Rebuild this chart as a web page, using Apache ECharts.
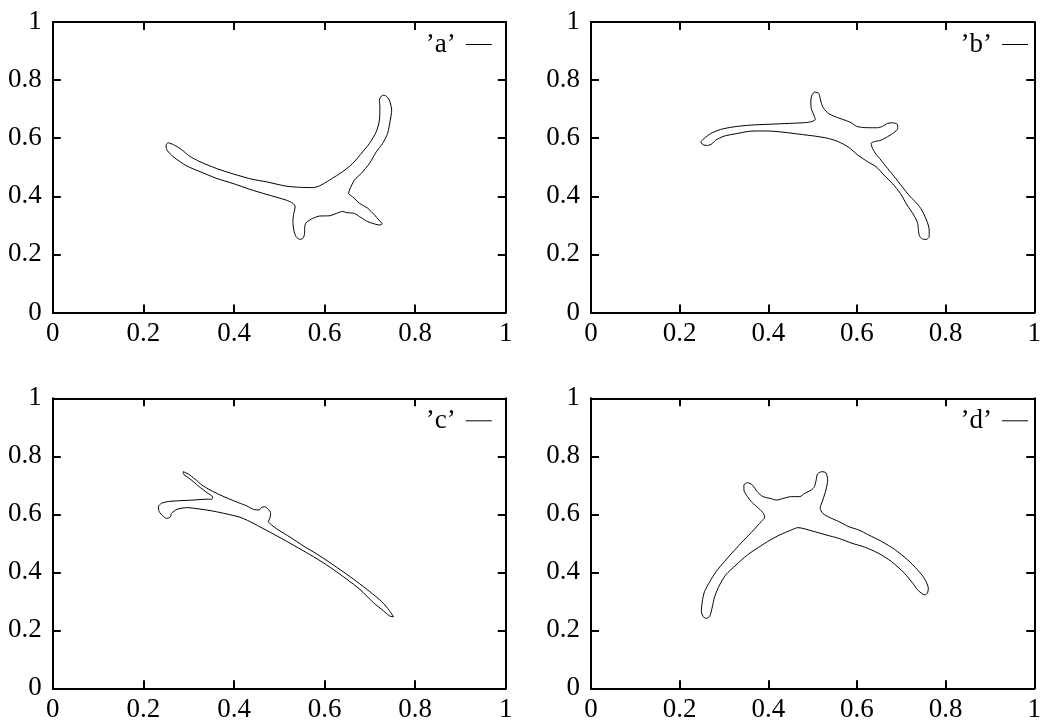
<!DOCTYPE html>
<html>
<head>
<meta charset="utf-8">
<script src="https://cdn.jsdelivr.net/npm/echarts@6/dist/echarts.min.js"></script>
<style>
  html, body { margin: 0; padding: 0; background: #ffffff; }
  #chart { width: 1044px; height: 725px; }
</style>
</head>
<body>
<div id="chart"></div>
<script>
// Tick labels shared by every axis
const tickLabels = ['0', '0.2', '0.4', '0.6', '0.8', '1'];

// Series names shown in each panel's key
const panelNames = ['’a’', '’b’', '’c’', '’d’'];

// Closed outlines, one per panel, as [x, y] pairs
const outlineA = [
  [0.251,0.580],[0.255,0.584],[0.266,0.578],[0.284,0.561],[0.302,0.538],[0.325,0.519],
  [0.361,0.496],[0.398,0.477],[0.442,0.458],[0.471,0.450],[0.515,0.435],[0.545,0.431],
  [0.574,0.430],[0.589,0.436],[0.611,0.456],[0.640,0.485],[0.662,0.513],[0.684,0.553],
  [0.699,0.582],[0.714,0.622],[0.721,0.662],[0.722,0.708],[0.721,0.731],[0.728,0.748],
  [0.736,0.745],[0.743,0.731],[0.748,0.696],[0.745,0.662],[0.739,0.616],[0.728,0.582],
  [0.714,0.553],[0.699,0.513],[0.681,0.479],[0.666,0.456],[0.655,0.422],[0.653,0.410],
  [0.662,0.398],[0.677,0.376],[0.695,0.359],[0.710,0.336],[0.720,0.318],[0.727,0.305],
  [0.721,0.301],[0.710,0.305],[0.695,0.313],[0.677,0.330],[0.666,0.341],[0.648,0.344],
  [0.640,0.348],[0.626,0.341],[0.611,0.333],[0.589,0.332],[0.574,0.324],[0.559,0.309],
  [0.556,0.290],[0.556,0.273],[0.552,0.255],[0.545,0.252],[0.537,0.261],[0.532,0.284],
  [0.530,0.313],[0.532,0.341],[0.535,0.364],[0.530,0.376],[0.515,0.387],[0.471,0.407],
  [0.435,0.424],[0.398,0.444],[0.361,0.462],[0.325,0.485],[0.295,0.505],[0.266,0.536],
  [0.253,0.557],[0.250,0.573],[0.251,0.580]
];

const outlineB = [
  [0.248,0.588],[0.255,0.599],[0.270,0.616],[0.292,0.630],[0.322,0.639],[0.359,0.645],
  [0.403,0.648],[0.447,0.651],[0.477,0.653],[0.495,0.656],[0.506,0.664],[0.503,0.679],
  [0.497,0.702],[0.496,0.731],[0.499,0.750],[0.505,0.759],[0.514,0.754],[0.517,0.737],
  [0.520,0.719],[0.525,0.702],[0.536,0.685],[0.551,0.674],[0.573,0.662],[0.587,0.653],
  [0.599,0.641],[0.613,0.637],[0.632,0.636],[0.646,0.636],[0.658,0.641],[0.669,0.651],
  [0.680,0.653],[0.691,0.648],[0.692,0.633],[0.683,0.619],[0.669,0.605],[0.654,0.593],
  [0.639,0.588],[0.632,0.582],[0.635,0.565],[0.643,0.545],[0.654,0.525],[0.669,0.496],
  [0.683,0.470],[0.702,0.433],[0.720,0.399],[0.735,0.376],[0.746,0.353],[0.757,0.318],
  [0.763,0.284],[0.763,0.261],[0.757,0.252],[0.750,0.252],[0.742,0.261],[0.739,0.278],
  [0.737,0.307],[0.728,0.336],[0.713,0.370],[0.698,0.410],[0.680,0.444],[0.661,0.473],
  [0.643,0.502],[0.624,0.519],[0.602,0.542],[0.580,0.570],[0.558,0.588],[0.536,0.599],
  [0.506,0.607],[0.469,0.614],[0.432,0.621],[0.396,0.625],[0.359,0.624],[0.329,0.616],
  [0.300,0.607],[0.281,0.593],[0.274,0.582],[0.263,0.575],[0.252,0.578],[0.248,0.588]
];

const outlineC = [
  [0.288,0.747],[0.299,0.739],[0.314,0.721],[0.329,0.701],[0.347,0.684],[0.369,0.667],
  [0.391,0.652],[0.410,0.640],[0.428,0.629],[0.443,0.617],[0.456,0.615],[0.461,0.624],
  [0.468,0.626],[0.476,0.617],[0.481,0.603],[0.479,0.586],[0.476,0.575],[0.483,0.563],
  [0.498,0.546],[0.524,0.521],[0.553,0.491],[0.583,0.463],[0.612,0.433],[0.641,0.402],
  [0.671,0.368],[0.700,0.333],[0.726,0.299],[0.743,0.268],[0.752,0.247],[0.744,0.249],
  [0.730,0.267],[0.708,0.295],[0.678,0.341],[0.649,0.376],[0.619,0.410],[0.590,0.440],
  [0.560,0.468],[0.524,0.500],[0.487,0.532],[0.457,0.557],[0.435,0.575],[0.413,0.590],
  [0.384,0.601],[0.354,0.611],[0.325,0.618],[0.296,0.623],[0.274,0.617],[0.262,0.603],
  [0.259,0.590],[0.251,0.586],[0.243,0.594],[0.235,0.609],[0.233,0.626],[0.240,0.638],
  [0.255,0.644],[0.281,0.647],[0.310,0.649],[0.336,0.652],[0.351,0.652],[0.353,0.659],
  [0.340,0.675],[0.321,0.698],[0.303,0.722],[0.288,0.741],[0.288,0.747]
];

const outlineD = [
  [0.253,0.247],[0.249,0.264],[0.251,0.299],[0.256,0.333],[0.268,0.368],[0.282,0.402],
  [0.301,0.437],[0.323,0.475],[0.345,0.511],[0.367,0.546],[0.384,0.575],[0.392,0.590],
  [0.389,0.603],[0.378,0.621],[0.364,0.640],[0.353,0.661],[0.345,0.684],[0.345,0.701],
  [0.353,0.709],[0.364,0.701],[0.375,0.678],[0.388,0.661],[0.404,0.655],[0.419,0.649],
  [0.434,0.655],[0.452,0.661],[0.471,0.661],[0.482,0.672],[0.497,0.684],[0.504,0.695],
  [0.508,0.718],[0.511,0.739],[0.521,0.747],[0.530,0.743],[0.534,0.718],[0.530,0.684],
  [0.523,0.649],[0.517,0.621],[0.523,0.603],[0.537,0.590],[0.559,0.575],[0.582,0.557],
  [0.604,0.546],[0.626,0.529],[0.656,0.506],[0.685,0.479],[0.715,0.442],[0.737,0.408],
  [0.752,0.379],[0.761,0.345],[0.759,0.328],[0.753,0.322],[0.737,0.339],[0.726,0.362],
  [0.707,0.397],[0.678,0.437],[0.648,0.466],[0.619,0.486],[0.589,0.500],[0.559,0.517],
  [0.530,0.529],[0.500,0.542],[0.467,0.554],[0.452,0.546],[0.426,0.529],[0.404,0.511],
  [0.378,0.486],[0.353,0.460],[0.327,0.425],[0.304,0.391],[0.290,0.356],[0.279,0.316],
  [0.273,0.276],[0.268,0.249],[0.260,0.241],[0.253,0.247]
];

const outlines = [outlineA, outlineB, outlineC, outlineD];

// Plot frames (pixels) for the 2x2 layout
const frames = [
  { left: 52.8, top: 22,    width: 453, height: 290.5 },
  { left: 591,  top: 22,    width: 451, height: 290.5 },
  { left: 52.8, top: 398.3, width: 453, height: 290 },
  { left: 591,  top: 398.3, width: 451, height: 290 }
];

const FONT = '"Liberation Serif", "Times New Roman", Times, serif';
const FONT_SIZE = 27;
const CHART_W = 1044;
const STEP = 0.2;

function labelFor(v) {
  return tickLabels[Math.round(v / STEP)] || '';
}

function axisBase(gridIndex, position, showLabel, margin) {
  return {
    type: 'value',
    gridIndex: gridIndex,
    position: position,
    min: 0, max: 1, interval: STEP,
    axisLine: { show: true, onZero: false, lineStyle: { color: '#000', width: 2 } },
    axisTick: { show: true, inside: true, length: 8, lineStyle: { color: '#000', width: 2 } },
    splitLine: { show: false },
    axisLabel: {
      show: showLabel,
      formatter: labelFor,
      color: '#000',
      fontFamily: FONT,
      fontSize: FONT_SIZE,
      margin: margin
    }
  };
}

const grids = [], xAxes = [], yAxes = [], series = [], legends = [];

frames.forEach((f, i) => {
  grids.push({ left: f.left, top: f.top, width: f.width, height: f.height, containLabel: false });
  xAxes.push(axisBase(i, 'bottom', true, 8));
  xAxes.push(axisBase(i, 'top', false, 8));
  yAxes.push(axisBase(i, 'left', true, 11));
  yAxes.push(axisBase(i, 'right', false, 8));
  series.push({
    name: panelNames[i],
    type: 'line',
    xAxisIndex: i * 2,
    yAxisIndex: i * 2,
    data: outlines[i],
    symbol: 'none',
    showSymbol: false,
    smooth: 0.25,
    lineStyle: { color: '#000', width: 1 },
    itemStyle: { color: '#000' },
    animation: false
  });
  legends.push({
    data: [panelNames[i]],
    right: CHART_W - (f.left + f.width - 14),
    top: f.top + 22 - 13,
    padding: 0,
    align: 'right',
    icon: 'rect',
    itemWidth: 26,
    itemHeight: 1,
    selectedMode: false,
    itemStyle: { color: '#000' },
    textStyle: { color: '#000', fontFamily: FONT, fontSize: FONT_SIZE, padding: [0, 5, 0, 0] }
  });
});

const chart = echarts.init(document.getElementById('chart'), null, { renderer: 'canvas' });
chart.setOption({
  backgroundColor: '#ffffff',
  animation: false,
  grid: grids,
  xAxis: xAxes,
  yAxis: yAxes,
  legend: legends,
  series: series
});
</script>
</body>
</html>
